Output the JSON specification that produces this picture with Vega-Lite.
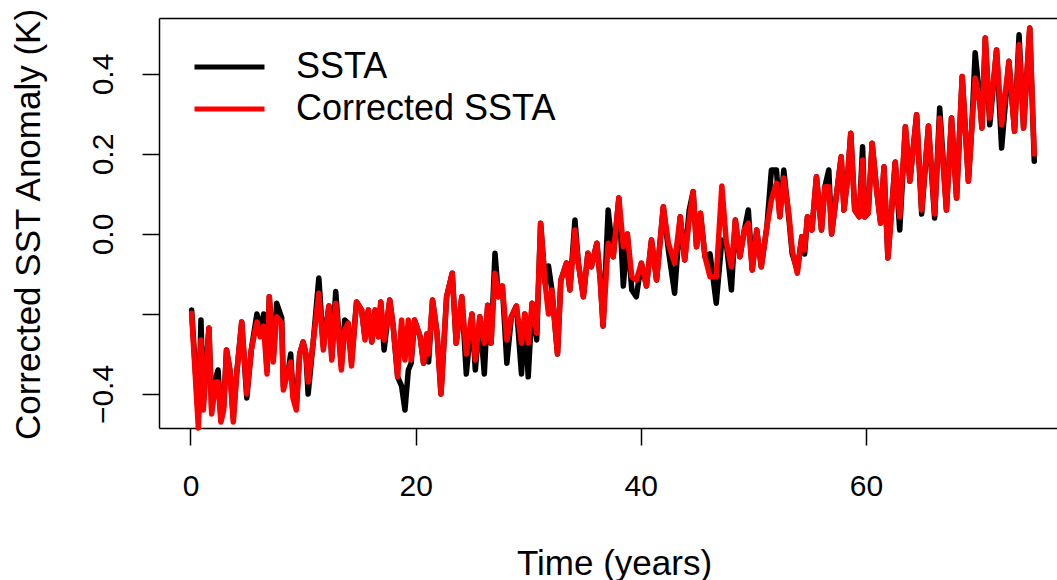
{
  "$schema": "https://vega.github.io/schema/vega-lite/v6.json",
  "autosize": {"type": "none"},
  "padding": {"left": 159, "top": 18, "right": 0, "bottom": 152},
  "width": 898,
  "height": 410,
  "background": "white",
  "config": {
    "view": {"stroke": null},
    "font": "Liberation Sans",
    "axis": {"grid": false, "domainColor": "#000", "domainWidth": 1.5, "tickColor": "#000", "tickWidth": 1.5, "labelColor": "#000", "titleColor": "#000", "labelFont": "Liberation Sans", "titleFont": "Liberation Sans", "titleFontWeight": "normal"}
  },
  "data": {"values": [
    {"t": 0.1, "SSTA": -0.19, "Corrected SSTA": -0.198},
    {"t": 0.7, "SSTA": -0.46, "Corrected SSTA": -0.485},
    {"t": 0.93, "SSTA": -0.215, "Corrected SSTA": -0.265},
    {"t": 1.14, "SSTA": -0.42, "Corrected SSTA": -0.44},
    {"t": 1.64, "SSTA": -0.235, "Corrected SSTA": -0.235},
    {"t": 1.88, "SSTA": -0.44, "Corrected SSTA": -0.45},
    {"t": 2.24, "SSTA": -0.36, "Corrected SSTA": -0.37},
    {"t": 2.45, "SSTA": -0.34, "Corrected SSTA": -0.37},
    {"t": 2.7, "SSTA": -0.46, "Corrected SSTA": -0.47},
    {"t": 2.95, "SSTA": -0.43, "Corrected SSTA": -0.44},
    {"t": 3.2, "SSTA": -0.29, "Corrected SSTA": -0.29},
    {"t": 3.5, "SSTA": -0.34, "Corrected SSTA": -0.34},
    {"t": 3.8, "SSTA": -0.46, "Corrected SSTA": -0.47},
    {"t": 4.1, "SSTA": -0.35, "Corrected SSTA": -0.35},
    {"t": 4.55, "SSTA": -0.22, "Corrected SSTA": -0.22},
    {"t": 5.0, "SSTA": -0.41, "Corrected SSTA": -0.40},
    {"t": 5.4, "SSTA": -0.29, "Corrected SSTA": -0.29},
    {"t": 5.9, "SSTA": -0.20, "Corrected SSTA": -0.22},
    {"t": 6.2, "SSTA": -0.24, "Corrected SSTA": -0.257},
    {"t": 6.5, "SSTA": -0.20, "Corrected SSTA": -0.23},
    {"t": 6.8, "SSTA": -0.34, "Corrected SSTA": -0.35},
    {"t": 7.0, "SSTA": -0.157, "Corrected SSTA": -0.157},
    {"t": 7.35, "SSTA": -0.31, "Corrected SSTA": -0.32},
    {"t": 7.65, "SSTA": -0.173, "Corrected SSTA": -0.207},
    {"t": 8.1, "SSTA": -0.21, "Corrected SSTA": -0.223},
    {"t": 8.25, "SSTA": -0.38, "Corrected SSTA": -0.39},
    {"t": 8.7, "SSTA": -0.34, "Corrected SSTA": -0.34},
    {"t": 8.9, "SSTA": -0.30, "Corrected SSTA": -0.32},
    {"t": 9.1, "SSTA": -0.40, "Corrected SSTA": -0.41},
    {"t": 9.4, "SSTA": -0.43, "Corrected SSTA": -0.44},
    {"t": 9.7, "SSTA": -0.30, "Corrected SSTA": -0.30},
    {"t": 10.0, "SSTA": -0.27, "Corrected SSTA": -0.27},
    {"t": 10.25, "SSTA": -0.30, "Corrected SSTA": -0.30},
    {"t": 10.45, "SSTA": -0.40, "Corrected SSTA": -0.37},
    {"t": 10.9, "SSTA": -0.27, "Corrected SSTA": -0.27},
    {"t": 11.4, "SSTA": -0.11, "Corrected SSTA": -0.148},
    {"t": 11.8, "SSTA": -0.28, "Corrected SSTA": -0.29},
    {"t": 12.3, "SSTA": -0.18, "Corrected SSTA": -0.18},
    {"t": 12.55, "SSTA": -0.31, "Corrected SSTA": -0.315},
    {"t": 12.9, "SSTA": -0.144, "Corrected SSTA": -0.173},
    {"t": 13.1, "SSTA": -0.22, "Corrected SSTA": -0.23},
    {"t": 13.4, "SSTA": -0.33, "Corrected SSTA": -0.34},
    {"t": 13.7, "SSTA": -0.215, "Corrected SSTA": -0.24},
    {"t": 14.0, "SSTA": -0.223, "Corrected SSTA": -0.223},
    {"t": 14.3, "SSTA": -0.32, "Corrected SSTA": -0.33},
    {"t": 14.75, "SSTA": -0.17, "Corrected SSTA": -0.17},
    {"t": 15.2, "SSTA": -0.19, "Corrected SSTA": -0.19},
    {"t": 15.5, "SSTA": -0.26, "Corrected SSTA": -0.265},
    {"t": 15.8, "SSTA": -0.19, "Corrected SSTA": -0.19},
    {"t": 16.1, "SSTA": -0.27, "Corrected SSTA": -0.27},
    {"t": 16.4, "SSTA": -0.19, "Corrected SSTA": -0.19},
    {"t": 16.7, "SSTA": -0.257, "Corrected SSTA": -0.257},
    {"t": 16.9, "SSTA": -0.17, "Corrected SSTA": -0.17},
    {"t": 17.2, "SSTA": -0.29, "Corrected SSTA": -0.265},
    {"t": 17.7, "SSTA": -0.165, "Corrected SSTA": -0.165},
    {"t": 18.0, "SSTA": -0.23, "Corrected SSTA": -0.23},
    {"t": 18.4, "SSTA": -0.357, "Corrected SSTA": -0.357},
    {"t": 18.75, "SSTA": -0.38, "Corrected SSTA": -0.215},
    {"t": 19.05, "SSTA": -0.44, "Corrected SSTA": -0.315},
    {"t": 19.35, "SSTA": -0.34, "Corrected SSTA": -0.215},
    {"t": 19.6, "SSTA": -0.323, "Corrected SSTA": -0.315},
    {"t": 19.9, "SSTA": -0.215, "Corrected SSTA": -0.215},
    {"t": 20.4, "SSTA": -0.257, "Corrected SSTA": -0.257},
    {"t": 20.7, "SSTA": -0.323, "Corrected SSTA": -0.323},
    {"t": 21.0, "SSTA": -0.25, "Corrected SSTA": -0.25},
    {"t": 21.15, "SSTA": -0.32, "Corrected SSTA": -0.30},
    {"t": 21.5, "SSTA": -0.165, "Corrected SSTA": -0.165},
    {"t": 21.9, "SSTA": -0.248, "Corrected SSTA": -0.248},
    {"t": 22.25, "SSTA": -0.40, "Corrected SSTA": -0.40},
    {"t": 22.75, "SSTA": -0.157, "Corrected SSTA": -0.157},
    {"t": 23.25, "SSTA": -0.098, "Corrected SSTA": -0.098},
    {"t": 23.6, "SSTA": -0.273, "Corrected SSTA": -0.273},
    {"t": 24.1, "SSTA": -0.157, "Corrected SSTA": -0.157},
    {"t": 24.5, "SSTA": -0.35, "Corrected SSTA": -0.30},
    {"t": 25.0, "SSTA": -0.2, "Corrected SSTA": -0.2},
    {"t": 25.3, "SSTA": -0.34, "Corrected SSTA": -0.315},
    {"t": 25.7, "SSTA": -0.207, "Corrected SSTA": -0.207},
    {"t": 26.1, "SSTA": -0.35, "Corrected SSTA": -0.273},
    {"t": 26.4, "SSTA": -0.178, "Corrected SSTA": -0.178},
    {"t": 26.7, "SSTA": -0.273, "Corrected SSTA": -0.273},
    {"t": 27.05, "SSTA": -0.048, "Corrected SSTA": -0.098},
    {"t": 27.35, "SSTA": -0.157, "Corrected SSTA": -0.157},
    {"t": 27.7, "SSTA": -0.13, "Corrected SSTA": -0.13},
    {"t": 28.1, "SSTA": -0.323, "Corrected SSTA": -0.265},
    {"t": 28.5, "SSTA": -0.207, "Corrected SSTA": -0.207},
    {"t": 28.95, "SSTA": -0.18, "Corrected SSTA": -0.18},
    {"t": 29.4, "SSTA": -0.35, "Corrected SSTA": -0.273},
    {"t": 29.7, "SSTA": -0.2, "Corrected SSTA": -0.2},
    {"t": 30.0, "SSTA": -0.357, "Corrected SSTA": -0.273},
    {"t": 30.35, "SSTA": -0.173, "Corrected SSTA": -0.173},
    {"t": 30.75, "SSTA": -0.265, "Corrected SSTA": -0.248},
    {"t": 31.1, "SSTA": 0.027, "Corrected SSTA": 0.027},
    {"t": 31.5, "SSTA": -0.123, "Corrected SSTA": -0.123},
    {"t": 31.8, "SSTA": -0.08, "Corrected SSTA": -0.2},
    {"t": 32.1, "SSTA": -0.14, "Corrected SSTA": -0.14},
    {"t": 32.6, "SSTA": -0.30, "Corrected SSTA": -0.30},
    {"t": 32.9, "SSTA": -0.115, "Corrected SSTA": -0.115},
    {"t": 33.4, "SSTA": -0.073, "Corrected SSTA": -0.073},
    {"t": 33.7, "SSTA": -0.14, "Corrected SSTA": -0.14},
    {"t": 34.15, "SSTA": 0.035, "Corrected SSTA": 0.01},
    {"t": 34.45, "SSTA": -0.073, "Corrected SSTA": -0.073},
    {"t": 34.9, "SSTA": -0.157, "Corrected SSTA": -0.157},
    {"t": 35.3, "SSTA": -0.048, "Corrected SSTA": -0.048},
    {"t": 35.6, "SSTA": -0.082, "Corrected SSTA": -0.082},
    {"t": 36.1, "SSTA": -0.023, "Corrected SSTA": -0.023},
    {"t": 36.4, "SSTA": -0.115, "Corrected SSTA": -0.115},
    {"t": 36.65, "SSTA": -0.23, "Corrected SSTA": -0.23},
    {"t": 37.1, "SSTA": 0.06, "Corrected SSTA": -0.023},
    {"t": 37.55, "SSTA": -0.057, "Corrected SSTA": -0.057},
    {"t": 38.05, "SSTA": 0.09, "Corrected SSTA": 0.09},
    {"t": 38.45, "SSTA": -0.13, "Corrected SSTA": -0.032},
    {"t": 38.8, "SSTA": 0.0, "Corrected SSTA": 0.0},
    {"t": 39.2, "SSTA": -0.14, "Corrected SSTA": -0.107},
    {"t": 39.6, "SSTA": -0.157, "Corrected SSTA": -0.115},
    {"t": 40.05, "SSTA": -0.073, "Corrected SSTA": -0.073},
    {"t": 40.5, "SSTA": -0.13, "Corrected SSTA": -0.13},
    {"t": 40.95, "SSTA": -0.015, "Corrected SSTA": -0.015},
    {"t": 41.4, "SSTA": -0.115, "Corrected SSTA": -0.115},
    {"t": 42.0, "SSTA": 0.068, "Corrected SSTA": 0.068},
    {"t": 42.45, "SSTA": -0.04, "Corrected SSTA": -0.023},
    {"t": 43.0, "SSTA": -0.148, "Corrected SSTA": -0.073},
    {"t": 43.5, "SSTA": 0.043, "Corrected SSTA": 0.043},
    {"t": 43.9, "SSTA": -0.065, "Corrected SSTA": -0.065},
    {"t": 44.3, "SSTA": 0.06, "Corrected SSTA": 0.035},
    {"t": 44.65, "SSTA": 0.106, "Corrected SSTA": 0.106},
    {"t": 44.95, "SSTA": -0.032, "Corrected SSTA": -0.032},
    {"t": 45.3, "SSTA": 0.052, "Corrected SSTA": 0.052},
    {"t": 45.7, "SSTA": -0.057, "Corrected SSTA": -0.057},
    {"t": 46.15, "SSTA": -0.05, "Corrected SSTA": -0.107},
    {"t": 46.7, "SSTA": -0.173, "Corrected SSTA": -0.107},
    {"t": 47.2, "SSTA": -0.015, "Corrected SSTA": 0.12},
    {"t": 47.6, "SSTA": -0.023, "Corrected SSTA": -0.023},
    {"t": 48.05, "SSTA": -0.14, "Corrected SSTA": -0.082},
    {"t": 48.4, "SSTA": 0.035, "Corrected SSTA": 0.035},
    {"t": 48.8, "SSTA": -0.057, "Corrected SSTA": -0.057},
    {"t": 49.2, "SSTA": 0.01, "Corrected SSTA": 0.01},
    {"t": 49.55, "SSTA": 0.06, "Corrected SSTA": 0.027},
    {"t": 49.9, "SSTA": -0.09, "Corrected SSTA": -0.09},
    {"t": 50.3, "SSTA": 0.01, "Corrected SSTA": 0.01},
    {"t": 50.7, "SSTA": -0.082, "Corrected SSTA": -0.082},
    {"t": 51.2, "SSTA": 0.018, "Corrected SSTA": 0.018},
    {"t": 51.6, "SSTA": 0.16, "Corrected SSTA": 0.085},
    {"t": 52.05, "SSTA": 0.16, "Corrected SSTA": 0.127},
    {"t": 52.35, "SSTA": 0.043, "Corrected SSTA": 0.043},
    {"t": 52.7, "SSTA": 0.16, "Corrected SSTA": 0.14},
    {"t": 53.15, "SSTA": 0.04, "Corrected SSTA": 0.05},
    {"t": 53.45, "SSTA": -0.05, "Corrected SSTA": -0.04},
    {"t": 53.9, "SSTA": -0.09, "Corrected SSTA": -0.098},
    {"t": 54.3, "SSTA": -0.007, "Corrected SSTA": -0.007},
    {"t": 54.55, "SSTA": -0.05, "Corrected SSTA": -0.04},
    {"t": 54.8, "SSTA": 0.043, "Corrected SSTA": 0.043},
    {"t": 55.2, "SSTA": 0.01, "Corrected SSTA": 0.01},
    {"t": 55.6, "SSTA": 0.143, "Corrected SSTA": 0.143},
    {"t": 56.05, "SSTA": 0.01, "Corrected SSTA": 0.01},
    {"t": 56.35, "SSTA": 0.118, "Corrected SSTA": 0.118},
    {"t": 56.7, "SSTA": 0.16, "Corrected SSTA": 0.118},
    {"t": 56.95, "SSTA": 0.0, "Corrected SSTA": 0.0},
    {"t": 57.4, "SSTA": 0.102, "Corrected SSTA": 0.102},
    {"t": 57.8, "SSTA": 0.193, "Corrected SSTA": 0.193},
    {"t": 58.05, "SSTA": 0.06, "Corrected SSTA": 0.06},
    {"t": 58.35, "SSTA": 0.135, "Corrected SSTA": 0.135},
    {"t": 58.65, "SSTA": 0.252, "Corrected SSTA": 0.252},
    {"t": 59.0, "SSTA": 0.06, "Corrected SSTA": 0.06},
    {"t": 59.4, "SSTA": 0.043, "Corrected SSTA": 0.043},
    {"t": 59.7, "SSTA": 0.218, "Corrected SSTA": 0.185},
    {"t": 59.9, "SSTA": 0.043, "Corrected SSTA": 0.043},
    {"t": 60.2, "SSTA": 0.052, "Corrected SSTA": 0.052},
    {"t": 60.55, "SSTA": 0.227, "Corrected SSTA": 0.227},
    {"t": 60.95, "SSTA": 0.11, "Corrected SSTA": 0.11},
    {"t": 61.3, "SSTA": 0.027, "Corrected SSTA": 0.027},
    {"t": 61.6, "SSTA": 0.168, "Corrected SSTA": 0.168},
    {"t": 61.95, "SSTA": -0.06, "Corrected SSTA": -0.06},
    {"t": 62.3, "SSTA": 0.068, "Corrected SSTA": 0.068},
    {"t": 62.6, "SSTA": 0.18, "Corrected SSTA": 0.18},
    {"t": 63.0, "SSTA": 0.01, "Corrected SSTA": 0.043},
    {"t": 63.5, "SSTA": 0.268, "Corrected SSTA": 0.268},
    {"t": 63.9, "SSTA": 0.132, "Corrected SSTA": 0.132},
    {"t": 64.5, "SSTA": 0.298, "Corrected SSTA": 0.298},
    {"t": 64.95, "SSTA": 0.05, "Corrected SSTA": 0.06},
    {"t": 65.55, "SSTA": 0.27, "Corrected SSTA": 0.27},
    {"t": 66.1, "SSTA": 0.04, "Corrected SSTA": 0.05},
    {"t": 66.55, "SSTA": 0.315, "Corrected SSTA": 0.29},
    {"t": 67.15, "SSTA": 0.06, "Corrected SSTA": 0.06},
    {"t": 67.6, "SSTA": 0.29, "Corrected SSTA": 0.29},
    {"t": 68.05, "SSTA": 0.09, "Corrected SSTA": 0.09},
    {"t": 68.55, "SSTA": 0.394, "Corrected SSTA": 0.394},
    {"t": 69.1, "SSTA": 0.132, "Corrected SSTA": 0.132},
    {"t": 69.4, "SSTA": 0.265, "Corrected SSTA": 0.265},
    {"t": 69.7, "SSTA": 0.453, "Corrected SSTA": 0.39},
    {"t": 70.1, "SSTA": 0.34, "Corrected SSTA": 0.332},
    {"t": 70.3, "SSTA": 0.265, "Corrected SSTA": 0.265},
    {"t": 70.6, "SSTA": 0.49, "Corrected SSTA": 0.49},
    {"t": 71.0, "SSTA": 0.273, "Corrected SSTA": 0.29},
    {"t": 71.6, "SSTA": 0.46, "Corrected SSTA": 0.46},
    {"t": 72.05, "SSTA": 0.215, "Corrected SSTA": 0.273},
    {"t": 72.7, "SSTA": 0.432, "Corrected SSTA": 0.432},
    {"t": 73.2, "SSTA": 0.257, "Corrected SSTA": 0.257},
    {"t": 73.6, "SSTA": 0.498, "Corrected SSTA": 0.473},
    {"t": 74.0, "SSTA": 0.265, "Corrected SSTA": 0.265},
    {"t": 74.55, "SSTA": 0.515, "Corrected SSTA": 0.515},
    {"t": 74.95, "SSTA": 0.182, "Corrected SSTA": 0.2}
  ]},
  "transform": [{"fold": ["SSTA", "Corrected SSTA"], "as": ["series", "value"]}],
  "encoding": {
    "x": {"field": "t", "type": "quantitative", "scale": {"domain": [-2.798, 76.97], "nice": false, "zero": false}},
    "y": {"field": "value", "type": "quantitative", "scale": {"domain": [-0.485, 0.54], "nice": false, "zero": false}},
    "color": {"field": "series", "type": "nominal", "scale": {"domain": ["SSTA", "Corrected SSTA"], "range": ["#000000", "#ff0000"]},
      "legend": {"orient": "none", "legendX": 33, "legendY": 30, "title": null, "symbolType": "stroke", "symbolSize": 4900, "symbolStrokeWidth": 5, "labelFontSize": 36, "labelFont": "Liberation Sans", "labelColor": "#000", "labelOffset": 29, "labelLimit": 0, "clipHeight": 38, "rowPadding": 4}}
  },
  "resolve": {"axis": {"x": "independent", "y": "independent"}},
  "layer": [
    {
      "transform": [{"filter": "datum.series === 'SSTA'"}],
      "mark": {"type": "line", "strokeWidth": 5.5, "strokeJoin": "round", "strokeCap": "round"},
      "encoding": {
        "x": {"field": "t", "type": "quantitative", "axis": {"orient": "bottom", "values": [0, 20, 40, 60], "domain": true, "tickSize": 17, "labelFontSize": 30, "labelPadding": 26, "title": "Time (years)", "titleFontSize": 35, "titleX": 455, "titleY": 135, "titleBaseline": "middle", "titleAlign": "center"}},
        "y": {"field": "value", "type": "quantitative", "axis": {"orient": "left", "values": [-0.4, -0.2, 0, 0.2, 0.4], "format": ".1f", "labelExpr": "abs(datum.value + 0.2) < 0.001 ? '' : datum.label", "domain": true, "tickSize": 17, "labelFontSize": 30, "labelAngle": -90, "labelAlign": "center", "labelBaseline": "alphabetic", "labelPadding": 30, "title": "Corrected SST Anomaly (K)", "titleFontSize": 35, "titleAngle": -90, "titleX": -131, "titleY": 206, "titleBaseline": "middle", "titleAlign": "center"}}
      }
    },
    {
      "transform": [{"filter": "datum.series === 'Corrected SSTA'"}],
      "mark": {"type": "line", "strokeWidth": 5.5, "strokeJoin": "round", "strokeCap": "round"},
      "encoding": {
        "x": {"field": "t", "type": "quantitative", "axis": {"orient": "top", "domain": true, "ticks": false, "labels": false, "title": null}},
        "y": {"field": "value", "type": "quantitative", "axis": null}
      }
    }
  ]
}
